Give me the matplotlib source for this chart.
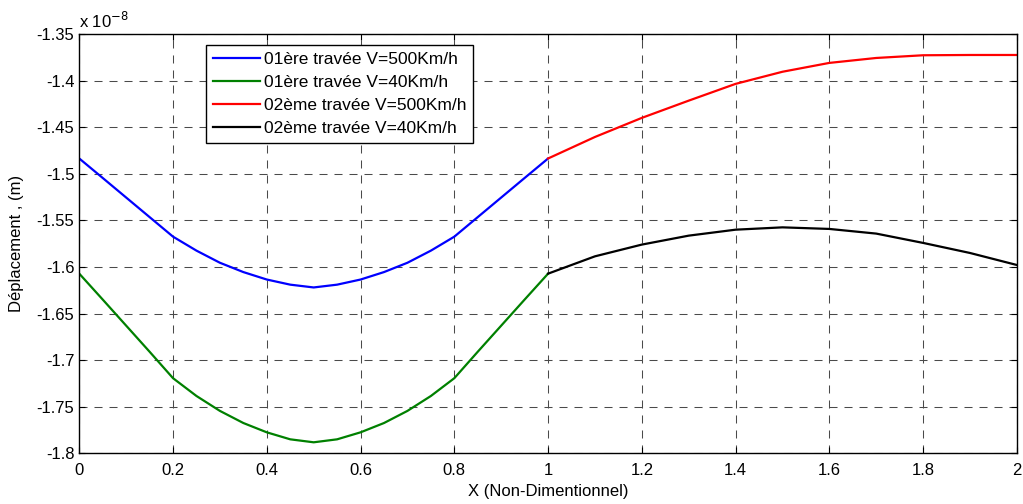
import matplotlib
matplotlib.use("Agg")
import matplotlib.pyplot as plt
import numpy as np

plt.rcParams['font.family'] = ['Liberation Sans', 'DejaVu Sans']
plt.rcParams['axes.unicode_minus'] = False

# first span (x in 0..1), values in units of 1e-8 m
x1 = [0.0, 0.05, 0.1, 0.15, 0.2, 0.25, 0.3, 0.35, 0.4, 0.45, 0.5,
      0.55, 0.6, 0.65, 0.7, 0.75, 0.8, 0.85, 0.9, 0.95, 1.0]
v500_1 = [-1.4836, -1.5045, -1.5255, -1.5465, -1.5675, -1.5825, -1.5955, -1.6055, -1.6135, -1.619, -1.622,
          -1.619, -1.6135, -1.6055, -1.5955, -1.5825, -1.5675, -1.5465, -1.5255, -1.5045, -1.4836]
v40_1 = [-1.6072, -1.635, -1.663, -1.691, -1.7194, -1.7385, -1.7545, -1.7675, -1.7775, -1.785, -1.7882,
         -1.785, -1.7775, -1.7675, -1.7545, -1.7385, -1.7194, -1.691, -1.663, -1.635, -1.6072]

# second span (x in 1..2)
x2 = [1.0, 1.1, 1.2, 1.3, 1.4, 1.5, 1.6, 1.7, 1.8, 1.9, 2.0]
v500_2 = [-1.4836, -1.4605, -1.440, -1.4215, -1.4035, -1.3905, -1.381, -1.3757, -1.3728, -1.3725, -1.3725]
v40_2 = [-1.6072, -1.5886, -1.576, -1.5664, -1.560, -1.5575, -1.5592, -1.5642, -1.5742, -1.585, -1.5979]

labels = ["01ère travée V=500Km/h", "01ère travée V=40Km/h",
          "02ème travée V=500Km/h", "02ème travée V=40Km/h"]

fig = plt.figure(figsize=(10.23, 5.04), dpi=100)
ax = fig.add_axes([0.0775, 0.1006, 0.9165, 0.8319])

ax.plot(x1, v500_1, color='#0000ff', lw=1.6, label=labels[0])
ax.plot(x1, v40_1, color='#008000', lw=1.6, label=labels[1])
ax.plot(x2, v500_2, color='#ff0000', lw=1.6, label=labels[2])
ax.plot(x2, v40_2, color='#000000', lw=1.6, label=labels[3])

ax.set_xlim(0, 2)
ax.set_ylim(-1.8, -1.35)
ax.set_xticks(np.arange(0, 2.01, 0.2))
ax.set_yticks(np.arange(-1.8, -1.349, 0.05))
ax.xaxis.set_major_formatter(matplotlib.ticker.FormatStrFormatter('%g'))
ax.yaxis.set_major_formatter(matplotlib.ticker.FormatStrFormatter('%g'))
ax.tick_params(direction='in', top=True, right=True, length=4, labelsize=12, width=0.8)
ax.tick_params(axis='x', pad=7)
for s in ax.spines.values():
    s.set_linewidth(1.0)
ax.grid(True, color='#4a4a4a', linestyle=(0, (7.7, 6.7)), linewidth=0.75)

ax.text(0.0, 1.008, r"x 10$^{-8}$", transform=ax.transAxes, fontsize=12, ha='left', va='bottom')

ax.set_xlabel("X (Non-Dimentionnel)", fontsize=12, labelpad=4)
ax.set_ylabel("Déplacement , (m)", fontsize=12, labelpad=9)

leg = ax.legend(loc='upper left', bbox_to_anchor=(0.135, 0.974), borderaxespad=0,
                fontsize=12.5, fancybox=False, framealpha=1, edgecolor='black',
                handlelength=2.7, handletextpad=0.25, labelspacing=0.45, borderpad=0.4)
leg.get_frame().set_linewidth(1.0)

fig.savefig("out.png", dpi=100)
